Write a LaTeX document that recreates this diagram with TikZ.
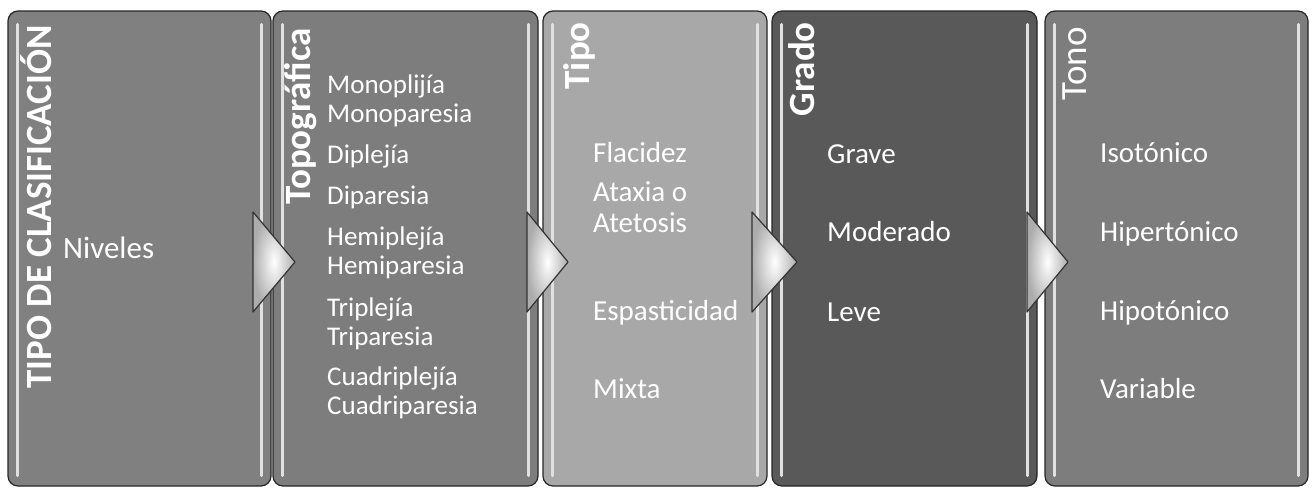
\documentclass[tikz,border=0pt]{standalone}
\usepackage{fontspec}
\setmainfont{Carlito}
\definecolor{grisA}{gray}{0.50}
\definecolor{grisB}{gray}{0.49}
\definecolor{grisC}{gray}{0.66}
\definecolor{grisD}{gray}{0.35}
\definecolor{grisE}{gray}{0.49}

\begin{document}
\begin{tikzpicture}[x=1pt,y=-1pt,
    caja/.style={draw=black!85, line width=1.2pt, rounded corners=10pt,
      minimum height=475pt, inner sep=0pt},
    barra/.style={white!88!black, line width=2.8pt, line cap=round},
    flecha/.style={draw=black!80, line width=1.2pt, line join=round,
      inner color=white, outer color=gray!65},
    titulo/.style={text=white, font=\fontsize{37}{42}\selectfont\bfseries,
      rotate=90, anchor=base east, inner sep=0pt},
    item/.style={text=white, font=\fontsize{29}{33}\selectfont,
      anchor=base west, inner sep=0pt}]
  \useasboundingbox (0,0) rectangle (1313,488);

  % cajas
  \node[caja, fill=grisA, minimum width=263pt] (b1) at (139.5,248.5) {};
  \node[caja, fill=grisB, minimum width=265pt] (b2) at (405.5,248.5) {};
  \node[caja, fill=grisC, minimum width=224pt] (b3) at (655,248.5) {};
  \node[caja, fill=grisD, minimum width=265pt] (b4) at (904.5,248.5) {};
  \node[caja, fill=grisE, minimum width=263pt] (b5) at (1176.5,248.5) {};

  \foreach \b in {b1,b2,b3,b4,b5} {
    \draw[barra] ([shift={(10pt,-14pt)}]\b.north west) -- ([shift={(10pt,11pt)}]\b.south west);
    \draw[barra] ([shift={(-10pt,-14pt)}]\b.north east) -- ([shift={(-10pt,11pt)}]\b.south east);
  }

  % flechas
  \shadedraw[flecha] (253,212) -- (295,262) -- (253,312) -- cycle;
  \shadedraw[flecha] (527,212) -- (568,262) -- (527,312) -- cycle;
  \shadedraw[flecha] (752,212) -- (797,262) -- (752,312) -- cycle;
  \shadedraw[flecha] (1027,212) -- (1068,262) -- (1027,312) -- cycle;

  % titulos
  \node[titulo] (t1) at (51,25) {TIPO DE CLASIFICACIÓN};
  \node[titulo] (t2) at (310,28) {Topográfica};
  \node[titulo] (t3) at (589,22) {Tipo};
  \node[titulo] (t4) at (814,22) {Grado};
  \node[titulo, font=\fontsize{37}{42}\selectfont] (t5) at (1086,27) {Tono};

  % niveles
  \node[item, font=\fontsize{31}{36}\selectfont] (n1) at (63,258) {Niveles};
  \foreach \t/\y [count=\i] in {Monoplijía/93, Monoparesia/122, Diplejía/163,
      Diparesia/204, Hemiplejía/245, Hemiparesia/274, Triplejía/316,
      Triparesia/345, Cuadriplejía/385, Cuadriparesia/414}
    \node[item, font=\fontsize{27}{31}\selectfont] (topo\i) at (327,\y) {\t};
  \foreach \t/\y [count=\i] in {Flacidez/162, Ataxia o/201, Atetosis/232,
      Espasticidad/320, Mixta/398}
    \node[item] (tipo\i) at (593,\y) {\t};
  \foreach \t/\y [count=\i] in {Grave/163, Moderado/241, Leve/321}
    \node[item] (grado\i) at (827,\y) {\t};
  \foreach \t/\y [count=\i] in {Isotónico/162, Hipertónico/241, Hipotónico/320,
      Variable/398}
    \node[item] (tono\i) at (1100,\y) {\t};
\end{tikzpicture}
\end{document}
